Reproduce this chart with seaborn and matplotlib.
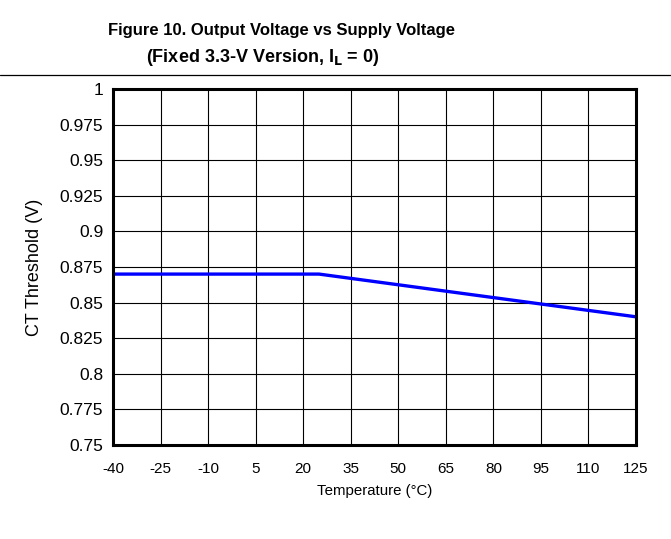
import numpy as np
import pandas as pd
import matplotlib
matplotlib.use("Agg")
import matplotlib.pyplot as plt
import seaborn as sns
from matplotlib.lines import Line2D

# values
temperature_c = [-40, 25, 125]
ct_threshold_v = [0.87, 0.87, 0.84]

x_ticks = [-40, -25, -10, 5, 20, 35, 50, 65, 80, 95, 110, 125]
y_ticks = [0.75, 0.775, 0.8, 0.825, 0.85, 0.875, 0.9, 0.925, 0.95, 0.975, 1.0]
y_tick_labels = ["0.75", "0.775", "0.8", "0.825", "0.85", "0.875", "0.9",
                 "0.925", "0.95", "0.975", "1"]

sns.set_style("white")
plt.rcParams['font.family'] = ['Liberation Sans', 'DejaVu Sans']
plt.rcParams['text.color'] = 'black'
plt.rcParams['axes.labelcolor'] = 'black'

df = pd.DataFrame({"temp": temperature_c, "vth": ct_threshold_v})

fig = plt.figure(figsize=(6.71, 5.39), dpi=100)
ax = fig.add_axes([0.1684, 0.1744, 0.7795, 0.6606])

sns.lineplot(data=df, x="temp", y="vth", ax=ax, color="#0000ff", linewidth=2.4)

ax.set_xlim(-40, 125)
ax.set_ylim(0.75, 1.0)
ax.set_xticks(x_ticks)
ax.set_xticklabels([str(t) for t in x_ticks])
ax.set_yticks(y_ticks)
ax.set_yticklabels(y_tick_labels)
ax.tick_params(axis="x", length=0, labelsize=11, colors="black", pad=12)
ax.tick_params(axis="y", length=0, labelsize=12.5, colors="black", pad=7)

ax.grid(True, color="black", linewidth=0.8)
for s in ax.spines.values():
    s.set_visible(True)
    s.set_color("black")
    s.set_linewidth(2.2)

ax.set_xlabel("Temperature (°C)", fontsize=10.8, labelpad=6)
ax.set_ylabel("CT Threshold (V)", fontsize=13)
ax.yaxis.set_label_coords(-0.133, 0.5)

fig.text(0.42, 0.944, "Figure 10. Output Voltage vs Supply Voltage",
         ha="center", va="center", fontsize=12, fontweight="bold")
fig.text(0.2176, 0.894, r"(Fixed 3.3-V Version, I$_\mathbf{L}$ = 0)",
         ha="left", va="center", fontsize=13, fontweight="bold")

fig.add_artist(Line2D([0, 1], [0.861, 0.861], color="black", linewidth=0.9,
                      transform=fig.transFigure))

fig.savefig("out.png", dpi=100)
